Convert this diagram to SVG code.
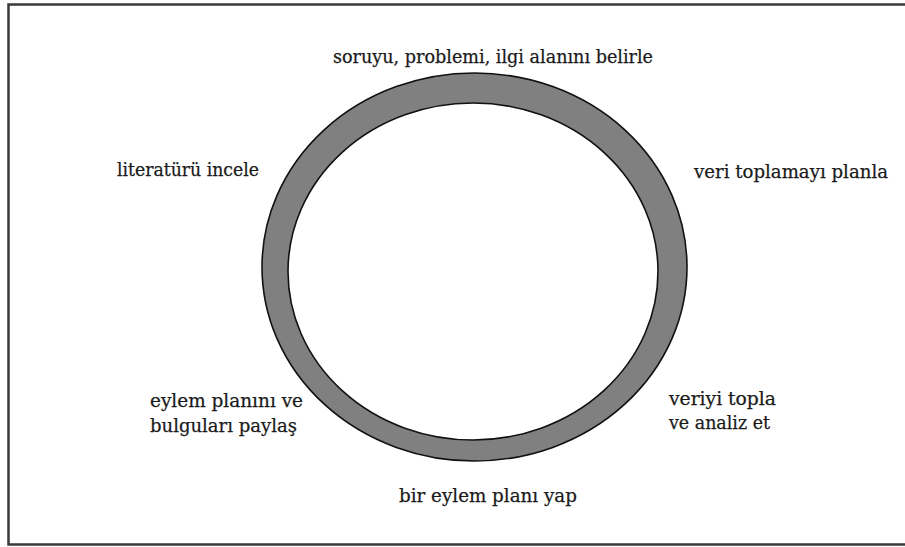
<svg xmlns="http://www.w3.org/2000/svg" width="905" height="547" viewBox="0 0 905 547">
  <style>
    .lbl { font-family: "DejaVu Serif", "Liberation Serif", serif; font-size: 18px; fill: #1a1a1a; stroke: #1a1a1a; stroke-width: 0.25; }
    .frame { fill: #ffffff; stroke: #3a3a3a; stroke-width: 2.5; }
    .ring { fill: #808080; stroke: #111111; stroke-width: 1.6; }
    .hole { fill: #ffffff; stroke: #111111; stroke-width: 1.6; }
  </style>
  <rect width="905" height="547" fill="#ffffff"/>
  <rect class="frame" x="8.5" y="4.5" width="905" height="540"/>

  <!-- cycle ring -->
  <g id="cycle">
    <ellipse class="ring" cx="474.5" cy="267" rx="212.5" ry="194"/>
    <ellipse class="hole" cx="473" cy="271.5" rx="185" ry="168.5"/>
  </g>

  <g id="connectors"></g>

  <g id="step-1">
    <text class="lbl" x="333" y="63" textLength="320" lengthAdjust="spacingAndGlyphs">soruyu, problemi, ilgi alanını belirle</text>
  </g>
  <g id="step-2">
    <text class="lbl" x="694" y="178" textLength="194" lengthAdjust="spacingAndGlyphs">veri toplamayı planla</text>
  </g>
  <g id="step-3">
    <text class="lbl" x="669" y="405" textLength="107" lengthAdjust="spacingAndGlyphs">veriyi topla</text>
    <text class="lbl" x="669" y="429" textLength="101" lengthAdjust="spacingAndGlyphs">ve analiz et</text>
  </g>
  <g id="step-4">
    <text class="lbl" x="399" y="502" textLength="178" lengthAdjust="spacingAndGlyphs">bir eylem planı yap</text>
  </g>
  <g id="step-5">
    <text class="lbl" x="150" y="407" textLength="153" lengthAdjust="spacingAndGlyphs">eylem planını ve</text>
    <text class="lbl" x="150" y="432" textLength="147" lengthAdjust="spacingAndGlyphs">bulguları paylaş</text>
  </g>
  <g id="step-6">
    <text class="lbl" x="117" y="176" textLength="142" lengthAdjust="spacingAndGlyphs">literatürü incele</text>
  </g>
</svg>
